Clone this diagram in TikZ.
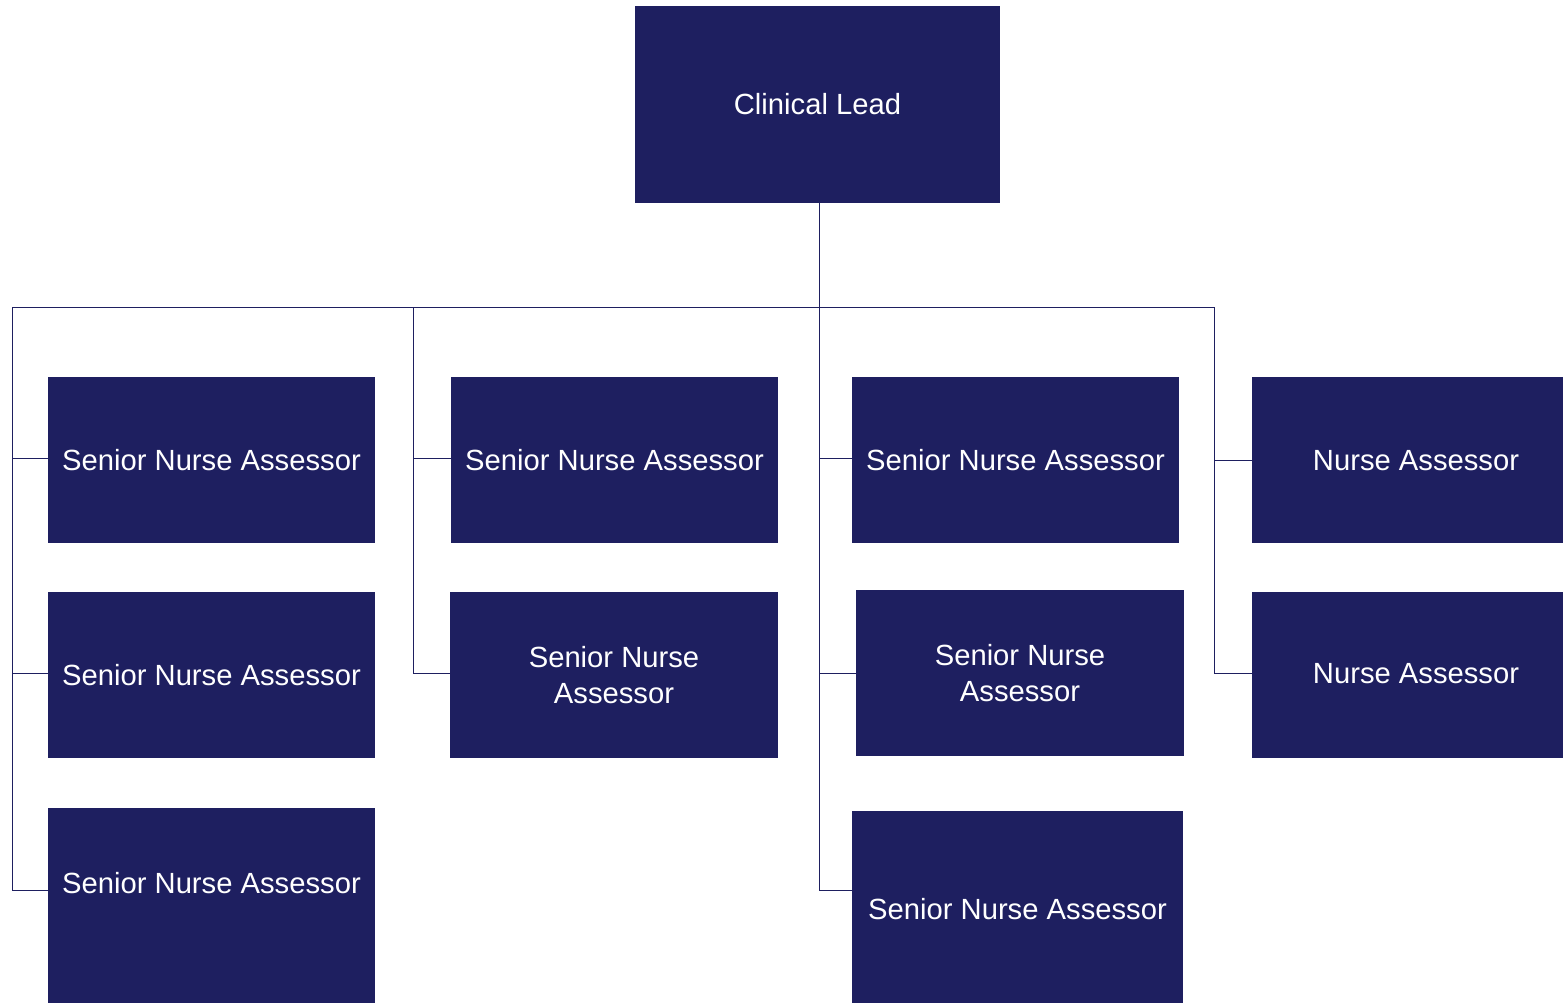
\documentclass[tikz,border=0pt]{standalone}
\usepackage{fontspec}
\setmainfont{Liberation Sans}
\definecolor{navy}{RGB}{30,31,96}
\begin{document}
\begin{tikzpicture}[x=0.5pt,y=-0.5pt,
  box/.style={fill=navy,draw=none,inner sep=0pt,outer sep=0pt,text=white,align=center,
    font=\fontsize{14.6pt}{18pt}\selectfont},
  lbl/.style={text=white,inner sep=0pt,font=\fontsize{14.6pt}{18pt}\selectfont,align=center},
  conn/.style={draw=navy,line width=0.45pt}]
\useasboundingbox (0,0) rectangle (1563,1003);
\fill[white] (0,0) rectangle (1563,1003);
% boxes
\node[box,minimum width=182.5pt,minimum height=98.5pt] (cl) at (817.5,104.5) {Clinical Lead};
\node[box,minimum width=163.5pt,minimum height=83pt] (s1) at (211.5,460) {Senior Nurse Assessor};
\node[box,minimum width=163.5pt,minimum height=83pt] (s2) at (614.5,460) {Senior Nurse Assessor};
\node[box,minimum width=163.5pt,minimum height=83pt] (s3) at (1015.5,460) {Senior Nurse Assessor};
\node[box,minimum width=155.5pt,minimum height=83pt] (n1) at (1407.5,460) {};
\node[lbl] (n1t) at (1416,461) {Nurse Assessor};
\node[box,minimum width=163.5pt,minimum height=83pt] (s4) at (211.5,675) {Senior Nurse Assessor};
\node[box,minimum width=164pt,minimum height=83pt] (s5) at (614,675) {Senior Nurse\\Assessor};
\node[box,minimum width=164pt,minimum height=83pt] (s6) at (1020,673) {Senior Nurse\\Assessor};
\node[box,minimum width=155.5pt,minimum height=83pt] (n2) at (1407.5,675) {};
\node[lbl] (n2t) at (1416,674) {Nurse Assessor};
\node[box,minimum width=163.5pt,minimum height=97.5pt] (s7) at (211.5,905.5) {};
\node[lbl] (s7t) at (211.5,883) {Senior Nurse Assessor};
\node[box,minimum width=165.5pt,minimum height=96pt] (s8) at (1017.5,907) {};
\node[lbl] (s8t) at (1017.5,909) {Senior Nurse Assessor};
% bus coordinates
\coordinate (top) at (819,307);
\coordinate (b1) at (12,307);
\coordinate (b2) at (413,307);
\coordinate (b3) at (819,307);
\coordinate (b4) at (1214,307);
\draw[conn] (cl.south -| top) -- (top);
\draw[conn] (b1) -- (b4);
\draw[conn] (b1) -- (12,890);
\draw[conn] (b2) -- (413,673);
\draw[conn] (b3) -- (819,890);
\draw[conn] (b4) -- (1214,673);
% branches
\draw[conn] (12,458) -- (s1.west |- 0,458);
\draw[conn] (12,673) -- (s4.west |- 0,673);
\draw[conn] (12,890) -- (s7.west |- 0,890);
\draw[conn] (413,458) -- (s2.west |- 0,458);
\draw[conn] (413,673) -- (s5.west |- 0,673);
\draw[conn] (819,458) -- (s3.west |- 0,458);
\draw[conn] (819,673) -- (s6.west |- 0,673);
\draw[conn] (819,890) -- (s8.west |- 0,890);
\draw[conn] (1214,460) -- (n1.west |- 0,460);
\draw[conn] (1214,673) -- (n2.west |- 0,673);
\end{tikzpicture}
\end{document}
